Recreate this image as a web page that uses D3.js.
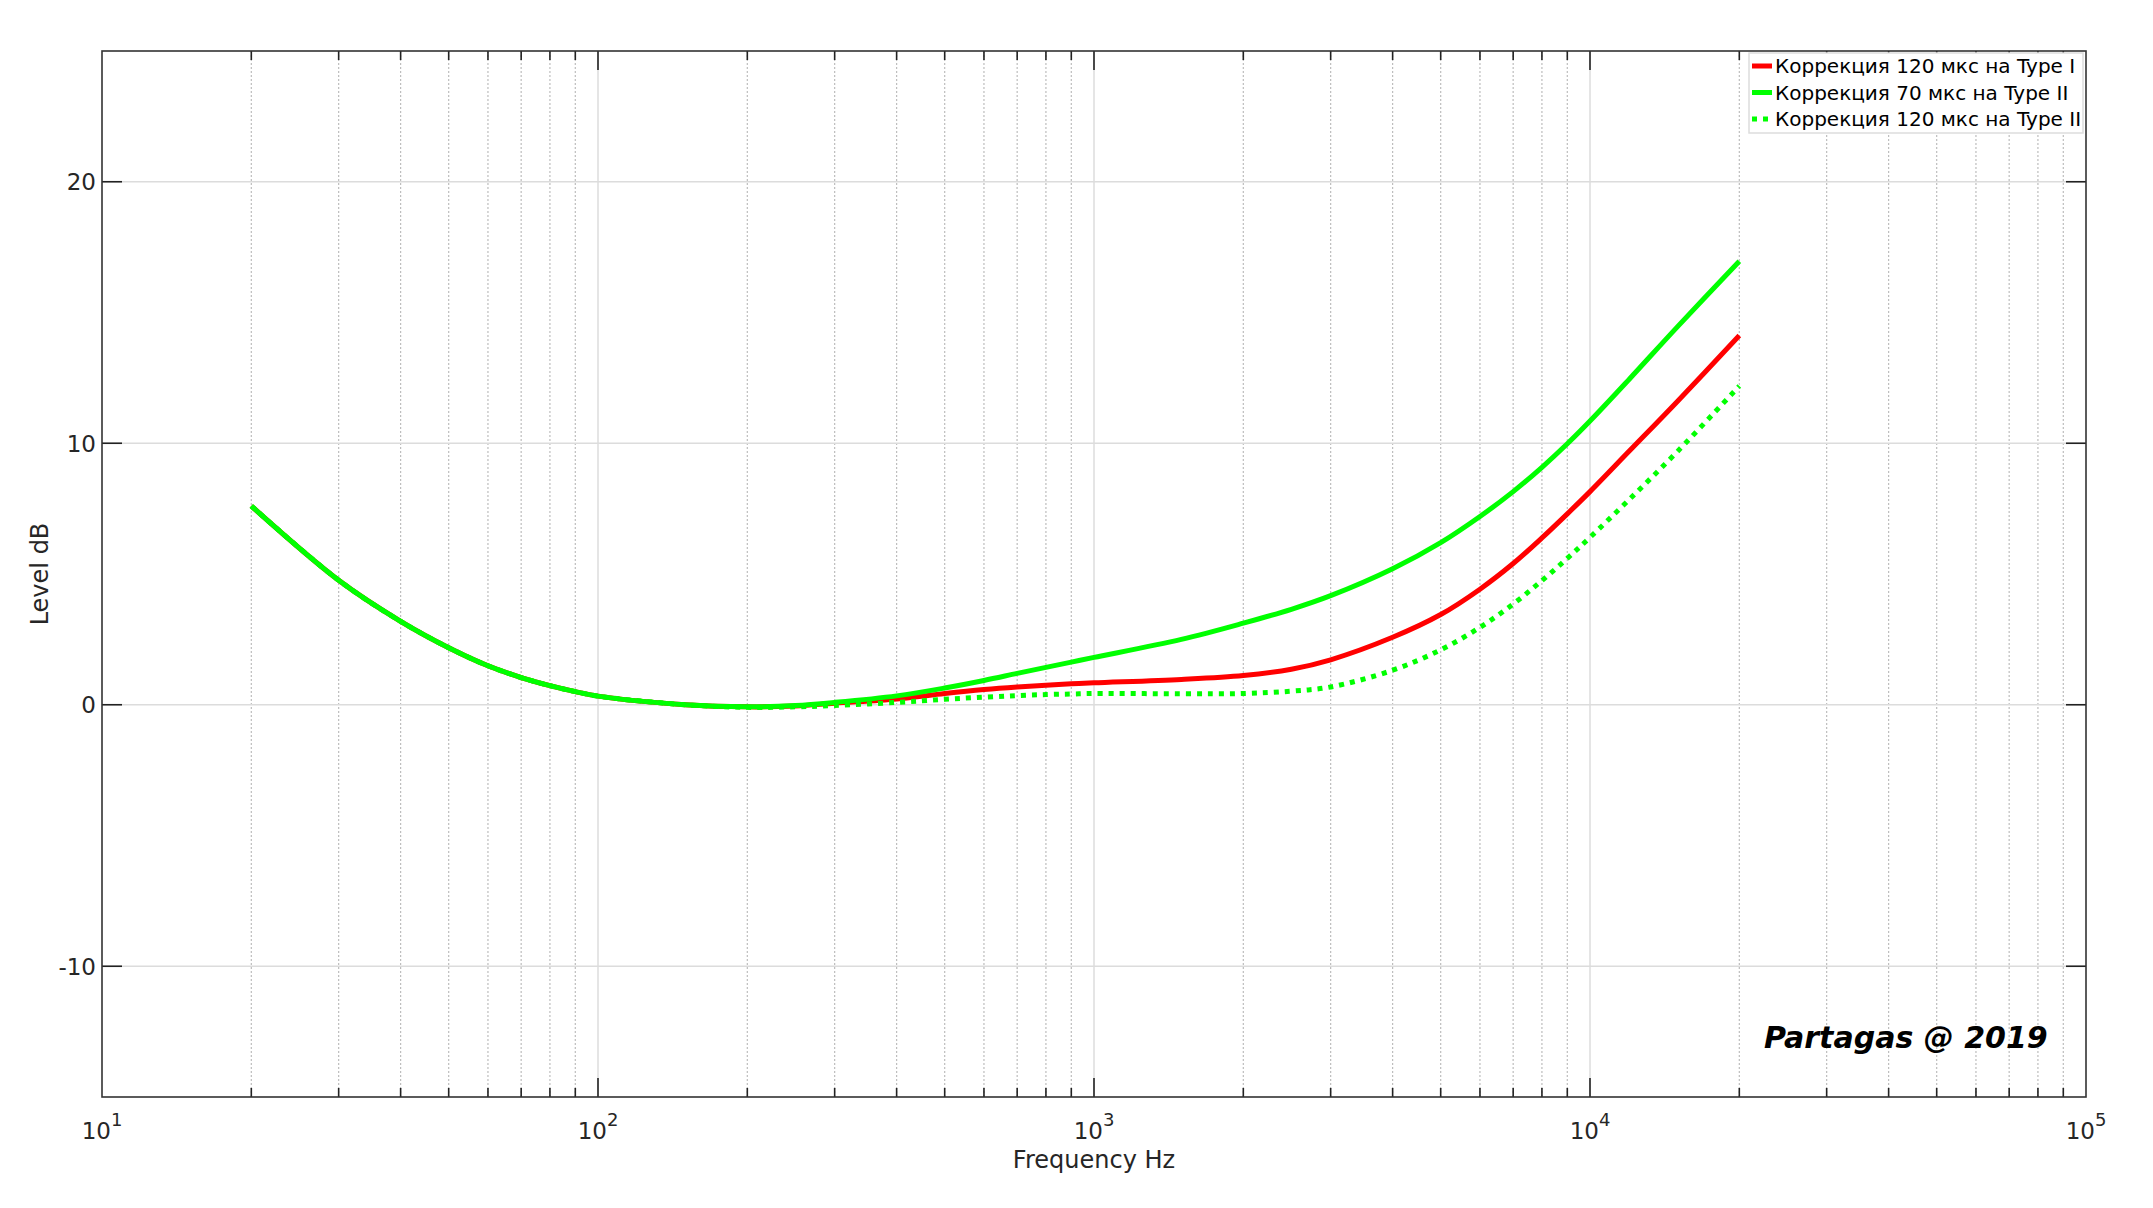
<!DOCTYPE html>
<html>
<head>
<meta charset="utf-8">
<script src="https://d3js.org/d3.v7.min.js"></script>
<style>
  body { margin: 0; padding: 0; background: #fff; }
  svg { display: block; font-family: "DejaVu Sans", sans-serif; }
</style>
</head>
<body>
<div id="my_dataviz"></div>
<script>
var freqs = [20, 30, 40, 50, 60, 70, 80, 90, 100, 150, 200, 250, 300, 400, 500, 600, 700, 800, 900, 1000,
             1500, 2000, 2500, 3000, 4000, 5000, 6000, 7000, 8000, 9000, 10000, 12000, 15000, 20000];

// Коррекция 120 мкс на Type I (red)
var red120TypeI = [7.6, 4.76, 3.19, 2.18, 1.49, 1.04, 0.73, 0.5, 0.33, 0.0, -0.08, -0.05, 0.06, 0.22, 0.43, 0.58, 0.68, 0.75, 0.8, 0.84,
                   0.97, 1.12, 1.36, 1.72, 2.58, 3.45, 4.42, 5.4, 6.38, 7.3, 8.15, 9.7, 11.6, 14.12];

// Коррекция 70 мкс на Type II (green solid)
var green70TypeII = [7.6, 4.76, 3.19, 2.18, 1.49, 1.04, 0.73, 0.5, 0.33, 0.0, -0.08, -0.03, 0.09, 0.34, 0.64, 0.93, 1.2, 1.43, 1.63, 1.81,
                     2.5, 3.12, 3.65, 4.17, 5.2, 6.2, 7.2, 8.15, 9.08, 9.98, 10.85, 12.45, 14.45, 16.96];

// Коррекция 120 мкс на Type II (green dotted)
var green120TypeII = [7.6, 4.76, 3.19, 2.18, 1.49, 1.04, 0.73, 0.5, 0.33, 0.0, -0.1, -0.08, -0.03, 0.09, 0.21, 0.29, 0.35, 0.39, 0.41, 0.43,
                      0.42, 0.43, 0.52, 0.68, 1.32, 2.1, 2.96, 3.85, 4.75, 5.6, 6.4, 7.85, 9.68, 12.19];

var yTicks = [-10, 0, 10, 20];
var xDecades = [1, 2, 3, 4, 5];

var seriesNames = ["Коррекция 120 мкс на Type I", "Коррекция 70 мкс на Type II", "Коррекция 120 мкс на Type II"];

var W = 2153, H = 1208;
var margin = { top: 51, right: 67, bottom: 111, left: 102 },
    width = W - margin.left - margin.right,
    height = H - margin.top - margin.bottom;

var svg = d3.select("#my_dataviz")
    .append("svg")
    .attr("width", W)
    .attr("height", H);

var g = svg.append("g")
    .attr("transform", "translate(" + margin.left + "," + margin.top + ")");

var x = d3.scaleLog().domain([10, 100000]).range([0, width]);
var y = d3.scaleLinear().domain([-15, 25]).range([height, 0]);

// minor and major frequency positions
var minorF = [];
for (var d = 10; d < 100000; d *= 10) {
    for (var k = 2; k <= 9; k++) minorF.push(d * k);
}
var majorF = xDecades.map(function (e) { return Math.pow(10, e); });

// grid lines
g.append("g").selectAll("line.minor")
    .data(minorF).enter().append("line")
    .attr("x1", function (f) { return x(f); })
    .attr("x2", function (f) { return x(f); })
    .attr("y1", 0).attr("y2", height)
    .style("stroke", "#bdbdbd")
    .style("stroke-width", 1.2)
    .style("stroke-dasharray", "2,2");

g.append("g").selectAll("line.major")
    .data(majorF.slice(1, -1)).enter().append("line")
    .attr("x1", function (f) { return x(f); })
    .attr("x2", function (f) { return x(f); })
    .attr("y1", 0).attr("y2", height)
    .style("stroke", "#dcdcdc")
    .style("stroke-width", 1.5);

g.append("g").selectAll("line.hgrid")
    .data(yTicks).enter().append("line")
    .attr("x1", 0).attr("x2", width)
    .attr("y1", function (v) { return y(v); })
    .attr("y2", function (v) { return y(v); })
    .style("stroke", "#dcdcdc")
    .style("stroke-width", 1.5);

// curves
var line = d3.line()
    .x(function (d) { return x(d[0]); })
    .y(function (d) { return y(d[1]); })
    .curve(d3.curveCatmullRom.alpha(0.5));

function pairs(vals) { return freqs.map(function (f, i) { return [f, vals[i]]; }); }

g.append("path").datum(pairs(red120TypeI))
    .attr("d", line)
    .style("fill", "none").style("stroke", "#ff0000").style("stroke-width", 5);

g.append("path").datum(pairs(green70TypeII))
    .attr("d", line)
    .style("fill", "none").style("stroke", "#00ff00").style("stroke-width", 5);

g.append("path").datum(pairs(green120TypeII))
    .attr("d", line)
    .style("fill", "none").style("stroke", "#00ff00").style("stroke-width", 5)
    .style("stroke-dasharray", "5,6");

// ticks (inward, on all four sides)
var tickCol = "#222";
function vTick(f, len, atTop) {
    g.append("line")
        .attr("x1", x(f)).attr("x2", x(f))
        .attr("y1", atTop ? 0 : height)
        .attr("y2", atTop ? len : height - len)
        .style("stroke", tickCol).style("stroke-width", 1.6);
}
minorF.forEach(function (f) { vTick(f, 9, false); vTick(f, 9, true); });
majorF.slice(1, -1).forEach(function (f) { vTick(f, 19, false); vTick(f, 19, true); });

yTicks.forEach(function (v) {
    g.append("line").attr("x1", 0).attr("x2", 20)
        .attr("y1", y(v)).attr("y2", y(v))
        .style("stroke", tickCol).style("stroke-width", 1.6);
    g.append("line").attr("x1", width).attr("x2", width - 20)
        .attr("y1", y(v)).attr("y2", y(v))
        .style("stroke", tickCol).style("stroke-width", 1.6);
});

// frame
g.append("rect")
    .attr("x", 0).attr("y", 0)
    .attr("width", width).attr("height", height)
    .style("fill", "none").style("stroke", "#333").style("stroke-width", 1.6);

// y tick labels
g.append("g").selectAll("text")
    .data(yTicks).enter().append("text")
    .attr("x", -6)
    .attr("y", function (v) { return y(v); })
    .attr("dy", "0.36em")
    .attr("text-anchor", "end")
    .style("font-size", "23px")
    .style("fill", "#262626")
    .text(function (v) { return v; });

// x tick labels 10^n
var xl = g.append("g").selectAll("text")
    .data(xDecades).enter().append("text")
    .attr("x", function (e) { return x(Math.pow(10, e)); })
    .attr("y", height + 42)
    .attr("text-anchor", "middle")
    .style("font-size", "23px")
    .style("fill", "#262626");
xl.append("tspan").text("10");
xl.append("tspan")
    .attr("dy", "-0.7em")
    .style("font-size", "18px")
    .text(function (e) { return e; });

// axis titles
g.append("text")
    .attr("x", x(1000))
    .attr("y", height + 71)
    .attr("text-anchor", "middle")
    .style("font-size", "24px")
    .style("fill", "#262626")
    .text("Frequency Hz");

g.append("text")
    .attr("transform", "translate(" + (-54) + "," + (height / 2) + ") rotate(-90)")
    .attr("text-anchor", "middle")
    .style("font-size", "24px")
    .style("fill", "#262626")
    .text("Level dB");

// legend
var lg = svg.append("g").attr("transform", "translate(1749,53)");
lg.append("rect")
    .attr("width", 334).attr("height", 80)
    .style("fill", "#fff").style("stroke", "#dddddd").style("stroke-width", 1.5);
var legendStyles = [
    { color: "#ff0000", dash: null },
    { color: "#00ff00", dash: null },
    { color: "#00ff00", dash: "5,6" }
];
seriesNames.forEach(function (name, i) {
    var cy = 13 + i * 26.5;
    lg.append("line")
        .attr("x1", 3).attr("x2", 23)
        .attr("y1", cy).attr("y2", cy)
        .style("stroke", legendStyles[i].color)
        .style("stroke-width", 5)
        .style("stroke-dasharray", legendStyles[i].dash);
    lg.append("text")
        .attr("x", 26).attr("y", cy + 7)
        .style("font-size", "20px")
        .style("fill", "#000")
        .text(name);
});

// signature
svg.append("text")
    .attr("x", 1764).attr("y", 1048)
    .style("font-size", "30px")
    .style("font-weight", "bold")
    .style("font-style", "italic")
    .style("fill", "#000")
    .text("Partagas @ 2019");
</script>
</body>
</html>
